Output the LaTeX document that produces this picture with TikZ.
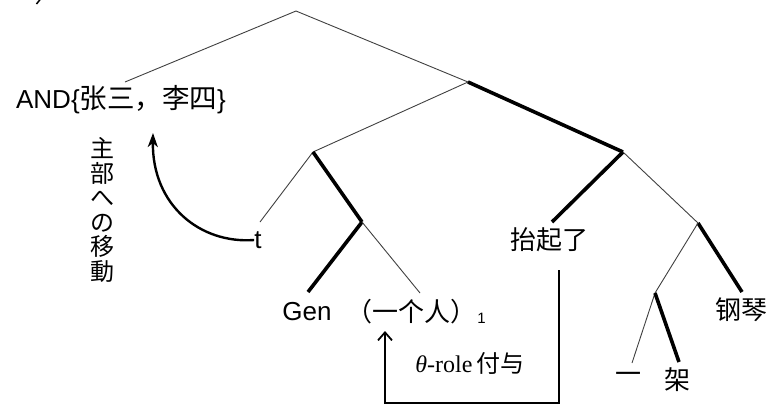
\documentclass[tikz,border=0pt]{standalone}
\usepackage{fontspec}
\setmainfont{Liberation Sans}
\newfontfamily\cjk{Noto Sans CJK SC}
\newfontfamily\jp{Noto Sans CJK JP}
\newfontfamily\tms{Liberation Serif}
\usetikzlibrary{arrows.meta}
\begin{document}
\begin{tikzpicture}[x=1pt,y=-1pt,
  thinbranch/.style={line width=0.9pt, draw=black!75},
  thickbranch/.style={line width=3.6pt, draw=black},
  word/.style={inner sep=0pt, font=\fontsize{26}{28}\selectfont},
  cjkword/.style={inner sep=0pt, font=\cjk\fontsize{26}{28}\selectfont},
  movearrow/.style={line width=2.4pt, -{Stealth[length=14pt,width=10pt,inset=4pt]}},
  rolearrow/.style={line width=1.8pt, -{Straight Barb[length=8pt,width=14pt]}}]
\useasboundingbox (0,0) rectangle (766,405);

% internal nodes of the tree
\coordinate (root) at (296,11);
\coordinate (s1)   at (468,82);
\coordinate (vpL)  at (313,152);
\coordinate (vpR)  at (623,152);
\coordinate (n1)   at (362,222);
\coordinate (np)   at (698,223);
\coordinate (cl)   at (655,293);

% leaves
\node[word] (and) at (121,100) {AND\{{\cjk\fontsize{27.5}{28}\selectfont 张三，李四}\}};
\node[word] (t)   at (258,240) {t};
\node[word] (gen) at (307,312) {Gen};
\node[cjkword] (ren) at (411,312) {（一个人）};
\node[inner sep=0pt, anchor=west, font=\fontsize{15}{16}\selectfont] (idx) at ([xshift=1pt,yshift=-6pt]ren.east) {1};
\node[cjkword] (tai) at (549,240) {抬起了};
\node[cjkword] (gq)  at (741,310) {钢琴};
\node[cjkword] (yi)  at (628,378) {一};
\node[cjkword] (jia) at (677,380) {架};

% tops of the leaf branches
\coordinate (andT) at (125,82);
\coordinate (tT)   at (260,222);
\coordinate (genT) at (308,292);
\coordinate (renT) at (420,293);
\coordinate (taiT) at (552,222);
\coordinate (gqT)  at (742,292);
\coordinate (yiT)  at (632,363);
\coordinate (jiaT) at (679,362);

% branches
\draw[thinbranch]  (root) -- (andT);
\draw[thinbranch]  (root) -- (s1);
\draw[thinbranch]  (s1) -- (vpL);
\draw[thickbranch] (s1) -- (vpR);
\draw[thinbranch]  (vpL) -- (tT);
\draw[thickbranch] (vpL) -- (n1);
\draw[thickbranch] (n1) -- (genT);
\draw[thinbranch]  (n1) -- (renT);
\draw[thickbranch] (vpR) -- (taiT);
\draw[thinbranch]  (vpR) -- (np);
\draw[thickbranch] (np) -- (gqT);
\draw[thinbranch]  (np) -- (cl);
\draw[thinbranch]  (cl) -- (yiT);
\draw[thickbranch] (cl) -- (jiaT);

% movement of the subject
\coordinate (andB) at (153,133);
\draw[movearrow] (t.west) .. controls (200,244) and (152,205) .. (andB);
\node[inner sep=0pt, align=center, font=\jp\fontsize{24}{24.5}\selectfont] (mv) at (102,210)
  {主\\部\\へ\\の\\移\\動};

% theta-role assignment
\coordinate (taiB) at (559,270);
\coordinate (renB) at (385,331);
\draw[rolearrow] (taiB) -- (559,403) -- (385,403) -- (renB);
\node[inner sep=0pt, font=\fontsize{24}{28}\selectfont] (theta) at (470,363)
  {{\tms\itshape θ}{\tms -role}\,{\cjk 付与}};

% fragment at the top edge
\draw[line width=1.5pt] (36.5,4) -- (40.5,-1);
\end{tikzpicture}
\end{document}
